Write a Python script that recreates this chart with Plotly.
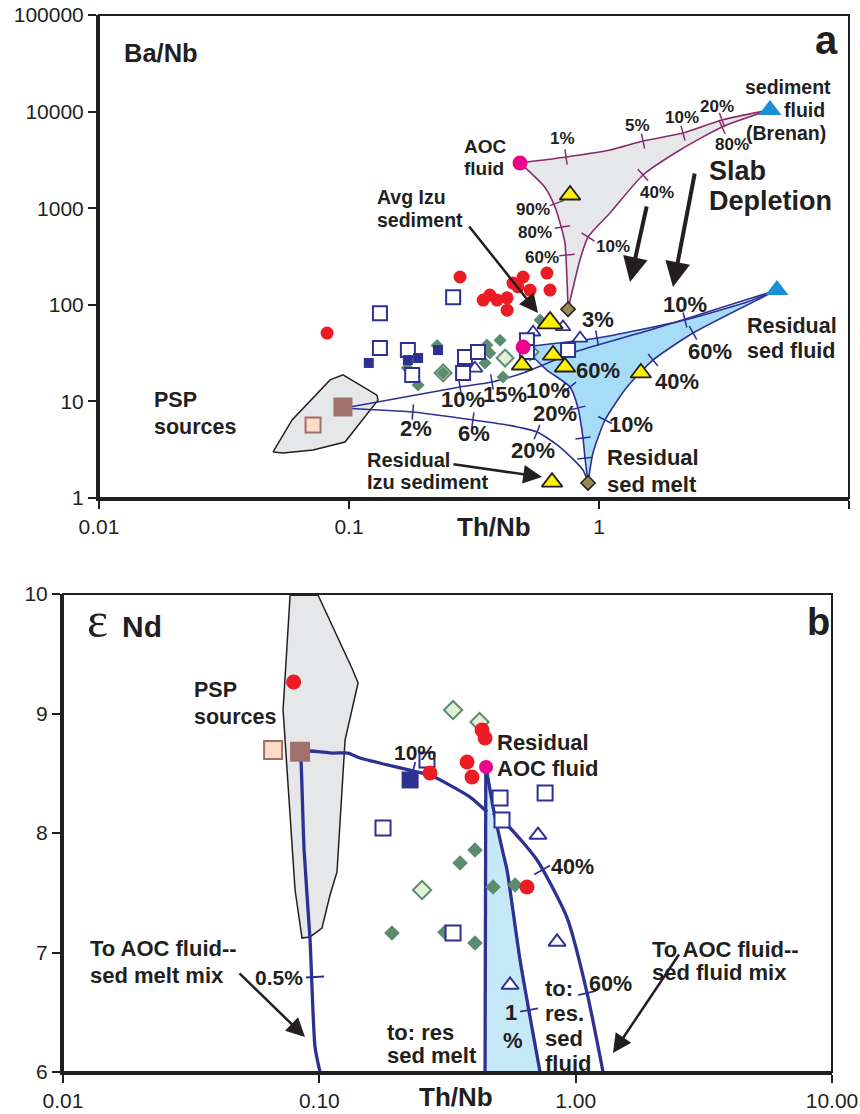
import plotly.graph_objects as go

W, H = 860, 1114
SANS = "Liberation Sans, Arial, sans-serif"
SERIF = "Liberation Serif, Times New Roman, serif"
INK = "#231f20"
NAVY = "#2e3192"
RED = "#ed1c24"
MAGENTA = "#ec008c"
GREEN = "#5b8c70"
LIGHTGREEN = "#e3f0d8"
YELLOW = "#fff200"
SKY = "#1b8fd6"
PURPLE = "#8a2c6c"
GRAY = "#e6e7e8"
FILL_A = "#a6dcf5"
FILL_B = "#c6e9f8"
BROWN = "#a0706e"
PEACH = "#fcdcc4"
OLIVE = "#9c8756"

# ---------------- Panel a: Ba/Nb vs Th/Nb ----------------
a_red_thnb = [0.0817, 0.278, 0.344, 0.366, 0.391, 0.429, 0.429, 0.453, 0.497, 0.530, 0.619, 0.637, 0.474]
a_red_banb = [51, 194, 112, 126, 112, 88, 118, 168, 194, 142, 213, 142, 153]

a_opensq_thnb = [0.133, 0.133, 0.172, 0.179, 0.261, 0.291, 0.328, 0.286, 0.515, 0.515, 0.752]
a_opensq_banb = [82, 35.7, 34, 18.8, 120, 28.8, 32.5, 19.7, 43, 32.5, 34]

a_navysq_thnb = [0.120, 0.172, 0.189, 0.227]
a_navysq_banb = [25, 26.8, 28.1, 34]

a_ltdia_thnb = [0.421, 0.238, 0.53]
a_ltdia_banb = [28.1, 19.7, 32.5]

a_dia_thnb = [0.171, 0.189, 0.356, 0.402, 0.366, 0.35, 0.413, 0.581, 0.238, 0.225]
a_dia_banb = [22.2, 14.8, 38.4, 43, 31.7, 25, 17.9, 69.6, 19.7, 38]

a_opentri_thnb = [0.545, 0.718, 0.84, 0.319]
a_opentri_banb = [52, 59, 45, 22]

a_yellow_thnb = [0.492, 0.655, 0.731, 1.47, 0.649, 0.766]
a_yellow_banb = [23.8, 30.2, 22.7, 19.7, 1.46, 1370]
a_avg_izu_thnb = [0.637]
a_avg_izu_banb = [65]

a_aoc_thnb = [0.483, 0.497]          # AOC fluid, residual AOC fluid
a_aoc_banb = [2940, 36.6]
a_sedfluid_thnb = [4.83, 5.15]       # sediment fluid (Brenan), residual sed fluid
a_sedfluid_banb = [10400, 142]
a_olive_thnb = [0.752, 0.904]
a_olive_banb = [90, 1.43]
a_psp_light = (0.0718, 5.7)
a_psp_dark = (0.0946, 8.75)

a_psp_poly_thnb = [0.0497, 0.0592, 0.084, 0.0946, 0.1294, 0.1306, 0.0964, 0.0718, 0.0545, 0.0497]
a_psp_poly_banb = [3.0, 6.42, 16.7, 18.8, 11.6, 10.3, 3.80, 3.14, 2.92, 3.0]

# slab-fluid mixing field (purple)
a_mix_top_thnb = [0.483, 0.738, 1.107, 1.50, 2.168, 3.105, 4.83]
a_mix_top_banb = [2940, 3388, 4000, 4962, 6000, 8185, 10400]
a_mix_right_thnb = [4.83, 3.105, 2.109, 1.50, 1.107, 0.904, 0.839, 0.752]
a_mix_right_banb = [10400, 6930, 4000, 2207, 892, 503, 291, 90]
a_mix_left_thnb = [0.483, 0.608, 0.667, 0.711, 0.731, 0.745, 0.752]
a_mix_left_banb = [2940, 1640, 1029, 595, 436, 181, 90]
a_mix_ticks_thnb = [0.738, 1.50, 2.168, 3.105, 3.105, 1.50, 0.904, 0.679, 0.713, 0.745]
a_mix_ticks_banb = [3388, 4962, 6000, 8185, 6930, 2207, 503, 1132, 639, 328]
a_mix_ticks_ang = [-8, -12, -15, -20, -24, -42, -57, 70, 80, 85]

# residual mixing curves (blue)
a_psp_fluid_thnb = [0.0946, 0.278, 0.373, 0.497, 0.802, 1.60, 3.048, 5.15]
a_psp_fluid_banb = [8.5, 14.1, 15.9, 19.7, 32.5, 54.8, 92.7, 142]
a_aoc_fluid_thnb = [0.497, 0.982, 2.208, 3.908, 5.15]
a_aoc_fluid_banb = [36.6, 45.3, 69.6, 107, 142]
a_fluid_melt_thnb = [5.15, 2.377, 1.644, 1.294, 1.057, 0.946, 0.904]
a_fluid_melt_banb = [142, 51.1, 26.8, 14.1, 6.42, 2.92, 1.43]
a_aoc_melt_thnb = [0.497, 0.619, 0.766, 0.824, 0.863, 0.879, 0.904]
a_aoc_melt_banb = [36.6, 21.1, 14.1, 8.55, 4.18, 2.59, 1.43]
a_psp_melt_thnb = [0.0946, 0.180, 0.313, 0.429, 0.565, 0.698, 0.863, 0.904]
a_psp_melt_banb = [8.5, 7.77, 6.42, 5.70, 4.82, 3.37, 1.95, 1.43]
a_res_ticks_thnb = [0.278, 0.373, 0.982, 2.208, 2.377, 1.644, 1.057, 0.766, 0.824, 0.863, 0.879, 0.18, 0.313, 0.565]
a_res_ticks_banb = [14.1, 15.9, 45.3, 69.6, 51.1, 26.8, 6.42, 14.1, 8.55, 4.18, 2.59, 7.77, 6.42, 4.82]
a_res_ticks_ang = [-9, -9, -10, -14, -29, -39, -63, 51, 76, 82, 84, 5, 8, 22]

# ---------------- Panel b: eNd vs Th/Nb ----------------
b_psp_poly_thnb = [0.0769, 0.0989, 0.1353, 0.1416, 0.126, 0.1172, 0.1101, 0.1024, 0.092, 0.0856, 0.0804, 0.0722, 0.0769]
b_psp_poly_end = [9.99, 9.99, 9.36, 9.255, 8.778, 7.674, 7.481, 7.205, 7.13, 7.121, 7.523, 9.029, 9.99]

b_red_thnb = [0.0794, 0.2703, 0.377, 0.394, 0.4313, 0.4431, 0.646]
b_red_end = [9.264, 8.502, 8.594, 8.469, 8.862, 8.795, 7.548]
b_opensq_thnb = [0.1772, 0.263, 0.507, 0.516, 0.76, 0.3324]
b_opensq_end = [8.042, 8.611, 8.293, 8.109, 8.335, 7.163]
b_opentri_thnb = [0.713, 0.846, 0.5546]
b_opentri_end = [7.983, 7.088, 6.728]
b_navysq_thnb = [0.226]
b_navysq_end = [8.444]
b_dia_thnb = [0.4048, 0.354, 0.4761, 0.5802, 0.192, 0.4048, 0.309]
b_dia_end = [7.858, 7.749, 7.548, 7.565, 7.163, 7.08, 7.17]
b_ltdia_thnb = [0.3324, 0.4217, 0.2516]
b_ltdia_end = [9.029, 8.929, 7.523]
b_aoc = (0.4471, 8.552)
b_psp_light = (0.066, 8.695)
b_psp_dark = (0.0841, 8.68)

b_psp_aoc_thnb = [0.0841, 0.092, 0.1131, 0.1294, 0.1442, 0.2321, 0.2703, 0.3873, 0.4511]
b_psp_aoc_end = [8.678, 8.686, 8.669, 8.669, 8.628, 8.519, 8.485, 8.301, 8.176]
b_aoc_melt_thnb = [0.4462, 0.4431]
b_aoc_melt_end = [8.552, 6.0]
b_aoc_fluid_thnb = [0.4471, 0.4761, 0.5208, 0.5398, 0.6068, 0.7261]
b_aoc_fluid_end = [8.552, 8.218, 7.833, 7.69, 6.937, 6.0]
b_mix_fluid_thnb = [0.4761, 0.5546, 0.7068, 0.926, 1.108, 1.279]
b_mix_fluid_end = [8.167, 8.042, 7.774, 7.289, 6.661, 6.0]
b_mix_melt_thnb = [0.0841, 0.0848, 0.0872, 0.092, 0.0962, 0.1006]
b_mix_melt_end = [8.68, 8.611, 7.858, 7.105, 6.209, 6.0]
b_ticks_thnb = [0.0962, 0.2321, 0.7396, 1.108, 0.658]
b_ticks_end = [6.795, 8.519, 7.69, 6.661, 6.519]
b_ticks_ang = [87, 14, 60, 77, 80]

# axis ticks
a_xticks = [0.01, 0.1, 1, 10]
a_xticktext = ["0.01", "0.1", "1", "10"]
a_yticks = [1, 10, 100, 1000, 10000, 100000]
a_yticktext = ["1", "10", "100", "1000", "10000", "100000"]
b_xticks = [0.01, 0.1, 1, 10]
b_xticktext = ["0.01", "0.10", "1.00", "10.00"]
b_yticks = [6, 7, 8, 9, 10]
b_yticktext = ["6", "7", "8", "9", "10"]

fig = go.Figure()


def add_markers(x, y, ax, symbol, size, color, lcolor=None, lwidth=0):
    fig.add_trace(go.Scatter(
        x=x, y=y, xaxis="x" + ax, yaxis="y" + ax, mode="markers",
        marker=dict(symbol=symbol, size=size, color=color,
                    line=dict(color=lcolor or color, width=lwidth)),
        hoverinfo="skip", showlegend=False))


def add_line(x, y, ax, color, width):
    fig.add_trace(go.Scatter(
        x=x, y=y, xaxis="x" + ax, yaxis="y" + ax, mode="lines",
        line=dict(color=color, width=width, shape="spline", smoothing=0.6),
        hoverinfo="skip", showlegend=False))


def add_fill(x, y, ax, fillcolor, lcolor=None, lwidth=0):
    fig.add_trace(go.Scatter(
        x=x, y=y, xaxis="x" + ax, yaxis="y" + ax, mode="lines", fill="toself",
        fillcolor=fillcolor, line=dict(color=lcolor or fillcolor, width=lwidth),
        hoverinfo="skip", showlegend=False))


def add_ticks(x, y, ang, ax, color, size, width):
    fig.add_trace(go.Scatter(
        x=x, y=y, xaxis="x" + ax, yaxis="y" + ax, mode="markers",
        marker=dict(symbol="line-ns", size=size, angle=ang,
                    line=dict(color=color, width=width)),
        hoverinfo="skip", showlegend=False))


# ---- panel a drawing ----
add_fill(a_psp_poly_thnb, a_psp_poly_banb, "", GRAY, INK, 1.5)
add_fill(a_mix_top_thnb + a_mix_right_thnb[1:] + a_mix_left_thnb[::-1][1:],
         a_mix_top_banb + a_mix_right_banb[1:] + a_mix_left_banb[::-1][1:], "", GRAY)
add_fill(a_aoc_fluid_thnb + a_fluid_melt_thnb[1:] + a_aoc_melt_thnb[::-1][1:],
         a_aoc_fluid_banb + a_fluid_melt_banb[1:] + a_aoc_melt_banb[::-1][1:], "", FILL_A)
for xs, ys in [(a_mix_top_thnb, a_mix_top_banb), (a_mix_right_thnb, a_mix_right_banb),
               (a_mix_left_thnb, a_mix_left_banb)]:
    add_line(xs, ys, "", PURPLE, 1.6)
for xs, ys in [(a_psp_fluid_thnb, a_psp_fluid_banb), (a_aoc_fluid_thnb, a_aoc_fluid_banb),
               (a_fluid_melt_thnb, a_fluid_melt_banb), (a_aoc_melt_thnb, a_aoc_melt_banb),
               (a_psp_melt_thnb, a_psp_melt_banb)]:
    add_line(xs, ys, "", NAVY, 1.6)
add_ticks(a_mix_ticks_thnb, a_mix_ticks_banb, a_mix_ticks_ang, "", PURPLE, 11, 1.5)
add_ticks(a_res_ticks_thnb, a_res_ticks_banb, a_res_ticks_ang, "", NAVY, 11, 1.5)

add_markers(a_red_thnb, a_red_banb, "", "circle", 13, RED)
add_markers(a_ltdia_thnb, a_ltdia_banb, "", "diamond", 13, LIGHTGREEN, GREEN, 2)
add_markers(a_dia_thnb, a_dia_banb, "", "diamond", 10, GREEN)
add_markers(a_opentri_thnb, a_opentri_banb, "", "triangle-up", 13, "white", NAVY, 1.8)
add_markers(a_opensq_thnb, a_opensq_banb, "", "square", 14, "white", NAVY, 2)
add_markers(a_navysq_thnb, a_navysq_banb, "", "square", 10, NAVY)
add_markers(a_aoc_thnb, a_aoc_banb, "", "circle", 15, MAGENTA)
add_markers(a_yellow_thnb, a_yellow_banb, "", "triangle-up", 18, YELLOW, INK, 1.8)
add_markers(a_avg_izu_thnb, a_avg_izu_banb, "", "triangle-up", 22, YELLOW, INK, 1.8)
add_markers(a_sedfluid_thnb, a_sedfluid_banb, "", "triangle-up", 20, SKY)
add_markers(a_olive_thnb, a_olive_banb, "", "diamond", 11, OLIVE, INK, 1.5)
add_markers([a_psp_light[0]], [a_psp_light[1]], "", "square", 15, PEACH, BROWN, 2)
add_markers([a_psp_dark[0]], [a_psp_dark[1]], "", "square", 19, BROWN)

# ---- panel b drawing ----
add_fill(b_psp_poly_thnb, b_psp_poly_end, "2", GRAY, INK, 1.5)
add_fill(b_aoc_fluid_thnb + b_aoc_melt_thnb[::-1], b_aoc_fluid_end + b_aoc_melt_end[::-1], "2", FILL_B)
for xs, ys in [(b_psp_aoc_thnb, b_psp_aoc_end), (b_aoc_melt_thnb, b_aoc_melt_end),
               (b_aoc_fluid_thnb, b_aoc_fluid_end), (b_mix_fluid_thnb, b_mix_fluid_end),
               (b_mix_melt_thnb, b_mix_melt_end)]:
    add_line(xs, ys, "2", NAVY, 3.3)
add_ticks(b_ticks_thnb, b_ticks_end, b_ticks_ang, "2", NAVY, 13, 1.8)

add_markers(b_dia_thnb, b_dia_end, "2", "diamond", 12, GREEN)
add_markers(b_ltdia_thnb, b_ltdia_end, "2", "diamond", 14, LIGHTGREEN, GREEN, 2)
add_markers(b_opensq_thnb, b_opensq_end, "2", "square", 15, "white", NAVY, 2)
add_markers(b_opentri_thnb, b_opentri_end, "2", "triangle-up", 15, "white", NAVY, 2)
add_markers(b_red_thnb, b_red_end, "2", "circle", 15, RED)
add_markers([b_aoc[0]], [b_aoc[1]], "2", "circle", 14, MAGENTA)
add_markers(b_navysq_thnb, b_navysq_end, "2", "square", 17, NAVY)
add_markers([b_psp_light[0]], [b_psp_light[1]], "2", "square", 18, PEACH, BROWN, 2)
add_markers([b_psp_dark[0]], [b_psp_dark[1]], "2", "square", 20, BROWN)

# ---- text labels (figure pixel positions) ----
annotations = []


def label(s, px, py, size, anchor="center", bold=True, family=SANS):
    annotations.append(dict(
        text=f"<b>{s}</b>" if bold else s, x=px / W, y=1 - py / H,
        xref="paper", yref="paper", xanchor=anchor, yanchor="middle",
        showarrow=False, font=dict(size=size, color=INK, family=family)))


def arrow(head, tail, width, size):
    annotations.append(dict(
        text="", x=head[0] / W, y=1 - head[1] / H, xref="paper", yref="paper",
        ax=tail[0] - head[0], ay=tail[1] - head[1], axref="pixel", ayref="pixel",
        showarrow=True, arrowhead=2, arrowsize=size, arrowwidth=width,
        arrowcolor=INK, standoff=0))


# panel a
label("Ba/Nb", 122, 53, 25.5, "left")
label("a", 826, 40, 40)
label("AOC", 485, 147, 19)
label("fluid", 484, 168, 19)
for s, px, py in [("1%", 562, 138), ("5%", 637, 125), ("10%", 682, 118), ("20%", 717, 107),
                  ("80%", 732, 145), ("40%", 657, 193), ("10%", 613, 247), ("90%", 533, 209),
                  ("80%", 535, 233), ("60%", 542, 257)]:
    label(s, px, py, 17)
label("sediment", 833, 87, 19.5, "right")
label("fluid", 827, 110, 19.5, "right")
label("(Brenan)", 828, 133, 19.5, "right")
label("Slab", 707, 171, 27, "left")
label("Depletion", 707, 201, 27, "left")
label("Avg Izu", 375, 197, 19.5, "left")
label("sediment", 375, 220, 19.5, "left")
for s, px, py in [("3%", 598, 319), ("10%", 685, 304), ("60%", 710, 352), ("60%", 598, 370),
                  ("40%", 677, 381), ("10%", 631, 424), ("10%", 548, 391), ("20%", 555, 413),
                  ("15%", 505, 395), ("10%", 463, 399), ("2%", 416, 428), ("6%", 474, 433),
                  ("20%", 533, 451)]:
    label(s, px, py, 22)
label("Residual", 745, 326, 21.5, "left")
label("sed fluid", 745, 351, 21.5, "left")
label("Residual", 605, 457, 22, "left")
label("sed melt", 605, 484, 22, "left")
label("Residual", 365, 460, 20, "left")
label("Izu sediment", 365, 482, 20, "left")
label("PSP", 152, 400, 21.5, "left")
label("sources", 152, 427, 21.5, "left")
label("Th/Nb", 494, 527, 26)
arrow((538, 313), (468, 225), 2.5, 1.5)
arrow((542, 477), (452, 464), 2.5, 1.5)
arrow((630, 282), (647, 205), 4, 1.25)
arrow((673, 287), (695, 172), 4, 1.25)

# panel b
label("\u03b5", 97, 620, 50, bold=False, family=SERIF)
label("Nd", 120, 626, 30, "left")
label("b", 818, 622, 38)
label("PSP", 192, 690, 21.5, "left")
label("sources", 192, 717, 21.5, "left")
label("10%", 415, 752, 21)
label("Residual", 495, 742, 22, "left")
label("AOC fluid", 495, 768, 22, "left")
label("40%", 572, 867, 21.5)
label("60%", 610, 984, 21.5)
label("To AOC fluid--", 88, 948, 22, "left")
label("sed melt mix", 88, 975, 22, "left")
label("0.5%", 305, 977, 21, "right")
label("to: res", 385, 1032, 22, "left")
label("sed melt", 385, 1055, 22, "left")
label("1", 511, 1012, 22)
label("%", 513, 1040, 22)
for s, py in [("to:", 988), ("res.", 1013), ("sed", 1038), ("fluid", 1063)]:
    label(s, 543, py, 22, "left")
label("To AOC fluid--", 650, 949, 22, "left")
label("sed fluid mix", 650, 972, 22, "left")
label("Th/Nb", 456, 1097, 26)
arrow((305, 1037), (238, 972), 2.5, 1.5)
arrow((613, 1053), (680, 953), 2.5, 1.5)

axis_common = dict(showgrid=False, zeroline=False, showline=True, linewidth=3, linecolor=INK,
                   ticks="outside", ticklen=8, tickwidth=2, tickcolor=INK, automargin=False,
                   tickfont=dict(family=SANS, size=21, color=INK))

fig.update_layout(
    width=W, height=H, margin=dict(l=0, r=0, t=0, b=0),
    paper_bgcolor="white", plot_bgcolor="white", showlegend=False,
    xaxis=dict(type="log", range=[-2, 1], domain=[99 / W, 849 / W], anchor="y",
               tickvals=a_xticks, ticktext=a_xticktext, **axis_common),
    yaxis=dict(type="log", range=[0, 5], domain=[1 - 498 / H, 1 - 15 / H], anchor="x",
               tickvals=a_yticks, ticktext=a_yticktext, **axis_common),
    xaxis2=dict(type="log", range=[-2, 1], domain=[63 / W, 832 / W], anchor="y2",
                tickvals=b_xticks, ticktext=b_xticktext, **axis_common),
    yaxis2=dict(range=[6, 10], domain=[1 - 1072 / H, 1 - 594 / H], anchor="x2",
                tickvals=b_yticks, ticktext=b_yticktext, **axis_common),
    annotations=annotations,
    shapes=[
        dict(type="rect", xref="x domain", yref="y domain", x0=0, x1=1, y0=0, y1=1,
             line=dict(color=INK, width=2)),
        dict(type="rect", xref="x2 domain", yref="y2 domain", x0=0, x1=1, y0=0, y1=1,
             line=dict(color=INK, width=2)),
    ],
)

fig.write_html("out.html")
